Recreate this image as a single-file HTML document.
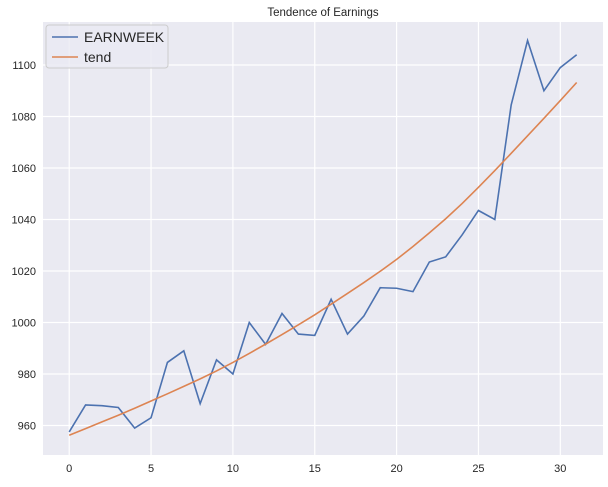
<!DOCTYPE html>
<html><head><meta charset="utf-8"><style>
body{margin:0;background:#fff;font-family:"Liberation Sans",sans-serif}
</style></head><body>
<svg id="c" width="608" height="482" xmlns="http://www.w3.org/2000/svg"></svg>
<script>
const xs=[...Array(32).keys()];
const earnweek=[957.5,968,967.7,967,959,963,984.5,989,968.5,985.5,980,1000,991.5,1003.5,995.5,995,1009,995.5,1002.5,1013.5,1013.3,1012,1023.5,1025.5,1034,1043.5,1040,1084.5,1109.5,1090,1099,1104];
const tend=[956.2,958.8,961.4,964.0,966.7,969.5,972.3,975.2,978.1,981.2,984.5,988.0,991.6,995.3,999.1,1003.0,1007.1,1011.3,1015.5,1019.9,1024.5,1029.5,1034.8,1040.3,1046.2,1052.5,1059,1065.7,1072.5,1079.3,1086.2,1093.2];
const xTicks=[0,5,10,15,20,25,30];
const yTicks=[960,980,1000,1020,1040,1060,1080,1100];
const X=v=>69.2+v*16.37, Y=v=>425.5-(v-960)*2.575;
const svg=document.getElementById('c'),NS='http://www.w3.org/2000/svg';
function mk(t,a,p){const e=document.createElementNS(NS,t);for(const k in a)e.setAttribute(k,a[k]);(p||svg).appendChild(e);return e;}
let bg=mk('rect',{x:43,y:22,width:560,height:433,fill:'#eaeaf2'});


xTicks.forEach(t=>{let l=mk('line',{x1:X(t),x2:X(t),y1:22,y2:455,stroke:'#fff','stroke-width':1.2});


let s=mk('text',{x:X(t),y:472,'text-anchor':'middle','font-size':11,fill:'#262626'});s.textContent=t;

});
yTicks.forEach(t=>{let l=mk('line',{x1:43,x2:603,y1:Y(t),y2:Y(t),stroke:'#fff','stroke-width':1.2});


let s=mk('text',{x:36,y:Y(t)+4,'text-anchor':'end','font-size':11,fill:'#262626'});s.textContent=t;

});
function line(d,c,n){let p=mk('polyline',{points:d.map((v,i)=>X(xs[i])+','+Y(v)).join(' '),fill:'none',stroke:c,'stroke-width':1.6});

}
line(earnweek,'#4c72b0','earnweek-line');
line(tend,'#dd8452','tend-line');
let ti=mk('text',{x:323,y:16,'text-anchor':'middle','font-size':11.5,fill:'#262626'});ti.textContent='Tendence of Earnings';


let g=mk('g',{});


mk('rect',{x:46,y:25,width:122,height:43,rx:3,fill:'#eaeaf2',stroke:'#cccccc','fill-opacity':0.8},g);
[['EARNWEEK','#4c72b0',37],['tend','#dd8452',57]].forEach(([n,c,y])=>{
mk('line',{x1:52,x2:78,y1:y,y2:y,stroke:c,'stroke-width':1.6},g);
let t=mk('text',{x:84,y:y+5,'font-size':14,fill:'#262626'},g);t.textContent=n;

});
</script>
</body></html>
